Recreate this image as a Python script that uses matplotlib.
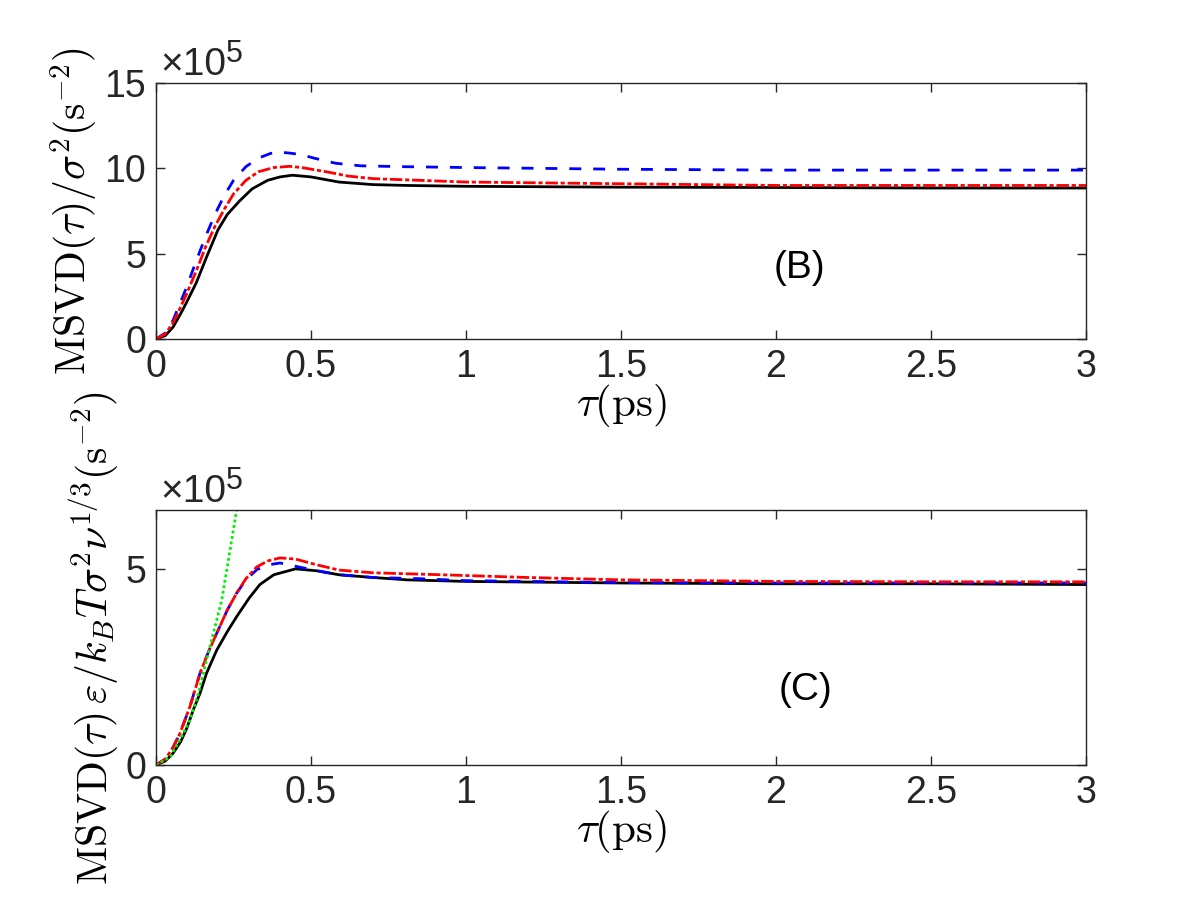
import matplotlib
matplotlib.use("Agg")
import matplotlib.pyplot as plt

plt.rcParams['font.family'] = ['Liberation Sans', 'DejaVu Sans']
plt.rcParams['mathtext.fontset'] = 'cm'

# panel (B): MSVD/sigma^2, units of 1e5 s^-2
tb_blk = [0, 0.03, 0.055, 0.08, 0.10, 0.13, 0.163, 0.20, 0.23, 0.27, 0.31, 0.36, 0.40, 0.44, 0.50, 0.59, 0.70, 0.81, 1.0, 1.5, 2.0, 2.5, 3.0]
vb_blk = [0, 0.2, 0.7, 1.5, 2.2, 3.3, 4.8, 6.4, 7.3, 8.1, 8.8, 9.3, 9.5, 9.6, 9.5, 9.2, 9.05, 9.0, 8.95, 8.9, 8.88, 8.85, 8.85]
tb_blu = [0, 0.03, 0.055, 0.08, 0.10, 0.13, 0.16, 0.19, 0.22, 0.25, 0.29, 0.33, 0.37, 0.40, 0.43, 0.47, 0.51, 0.58, 0.66, 0.8, 1.0, 1.5, 2.0, 2.5, 3.0]
vb_blu = [0, 0.35, 1.1, 2.2, 3.1, 4.6, 6.0, 7.3, 8.4, 9.3, 10.1, 10.6, 10.88, 10.95, 10.9, 10.8, 10.6, 10.3, 10.15, 10.1, 10.05, 9.95, 9.9, 9.9, 9.9]
tb_red = [0, 0.03, 0.055, 0.08, 0.10, 0.13, 0.16, 0.19, 0.22, 0.25, 0.29, 0.33, 0.38, 0.43, 0.47, 0.55, 0.62, 0.70, 0.85, 1.0, 1.5, 2.0, 2.5, 3.0]
vb_red = [0, 0.3, 0.95, 1.9, 2.7, 4.0, 5.4, 6.6, 7.6, 8.5, 9.3, 9.8, 10.05, 10.12, 10.05, 9.8, 9.55, 9.4, 9.3, 9.2, 9.1, 9.0, 9.0, 9.0]

# panel (C): scaled MSVD, units of 1e5 s^-2
tc_blk = [0, 0.03, 0.055, 0.08, 0.10, 0.12, 0.142, 0.163, 0.196, 0.23, 0.26, 0.30, 0.335, 0.38, 0.45, 0.52, 0.59, 0.70, 0.81, 1.0, 1.5, 2.0, 2.5, 3.0]
vc_blk = [0, 0.1, 0.3, 0.6, 0.95, 1.4, 1.83, 2.34, 2.93, 3.4, 3.78, 4.25, 4.6, 4.85, 5.0, 4.95, 4.85, 4.78, 4.72, 4.68, 4.64, 4.62, 4.62, 4.6]
tc_red = [0, 0.03, 0.055, 0.077, 0.11, 0.142, 0.17, 0.196, 0.23, 0.26, 0.29, 0.325, 0.36, 0.40, 0.45, 0.52, 0.59, 0.70, 0.92, 1.2, 1.5, 2.0, 2.5, 3.0]
vc_red = [0, 0.15, 0.45, 0.8, 1.5, 2.34, 2.9, 3.36, 3.95, 4.38, 4.75, 5.05, 5.2, 5.28, 5.25, 5.1, 4.97, 4.9, 4.85, 4.78, 4.72, 4.68, 4.67, 4.67]
tc_blu = [0, 0.03, 0.055, 0.077, 0.11, 0.142, 0.17, 0.196, 0.23, 0.26, 0.29, 0.325, 0.36, 0.40, 0.46, 0.52, 0.59, 0.70, 0.85, 1.0, 1.5, 2.0, 2.5, 3.0]
vc_blu = [0, 0.15, 0.45, 0.8, 1.5, 2.34, 2.9, 3.36, 3.95, 4.38, 4.72, 4.98, 5.1, 5.15, 5.05, 4.95, 4.85, 4.78, 4.75, 4.7, 4.65, 4.64, 4.64, 4.64]
tc_grn = [0, 0.045, 0.077, 0.11, 0.137, 0.163, 0.185, 0.212, 0.239, 0.26]
vc_grn = [0, 0.2, 0.64, 1.15, 1.83, 2.68, 3.36, 4.2, 5.48, 6.5]

xticks = [0, 0.5, 1, 1.5, 2, 2.5, 3]
xticklabels = ['0', '0.5', '1', '1.5', '2', '2.5', '3']

fig = plt.figure(figsize=(12, 9), dpi=100)
axB = fig.add_axes([0.13, 0.6233, 0.775, 0.2844])
axC = fig.add_axes([0.13, 0.15, 0.775, 0.2833])

lw = 2.0
DASH = (4.3, 4.3); DDOT = (4.5, 1.0, 1.5, 1.0); DOT = (1.0, 1.0)

axB.plot(tb_blk, vb_blk, color='k', lw=lw)
axB.plot(tb_blu, vb_blu, color='b', lw=lw, dashes=DASH)
axB.plot(tb_red, vb_red, color='r', lw=lw, dashes=DDOT)

axC.plot(tc_blk, vc_blk, color='k', lw=lw)
axC.plot(tc_blu, vc_blu, color='b', lw=lw, dashes=DASH)
axC.plot(tc_red, vc_red, color='r', lw=lw, dashes=DDOT)
axC.plot(tc_grn, vc_grn, color='#00f000', lw=lw, dashes=DOT)

for ax, ylim, yt, tag, tagpos, ylab in [
        (axB, 15, [0, 5, 10, 15], '(B)', (0.692, 0.277),
         r'$\mathrm{MSVD}(\tau)/\sigma^2(\mathrm{s}^{-2})$'),
        (axC, 6.5, [0, 5], '(C)', (0.698, 0.294),
         r'$\mathrm{MSVD}(\tau)\,\varepsilon/k_BT\sigma^2\nu^{1/3}(\mathrm{s}^{-2})$')]:
    ax.set_xlim(0, 3); ax.set_ylim(0, ylim)
    ax.set_xticks(xticks); ax.set_xticklabels(xticklabels)
    ax.set_yticks(yt); ax.set_yticklabels([str(v) for v in yt])
    ax.tick_params(direction='in', length=6.5, width=1, top=True, right=True,
                   labelsize=27, colors='#262626', pad=7)
    for s in ax.spines.values():
        s.set_linewidth(1.0); s.set_color('#262626')
    ax.set_xlabel(r'$\tau(\mathrm{ps})$', fontsize=31, labelpad=-2)
    ax.set_ylabel(ylab, fontsize=30, labelpad=3)
    ax.text(tagpos[0], tagpos[1], tag, transform=ax.transAxes, fontsize=28,
            ha='center', va='center')
    ax.annotate('×10', xy=(0, 1), xycoords='axes fraction', xytext=(4, 8),
                textcoords='offset pixels', fontsize=28, color='#262626', va='baseline')
    ax.annotate('5', xy=(0, 1), xycoords='axes fraction', xytext=(70, 21),
                textcoords='offset pixels', fontsize=22, color='#262626', va='baseline')

fig.savefig('out.png', dpi=100)
